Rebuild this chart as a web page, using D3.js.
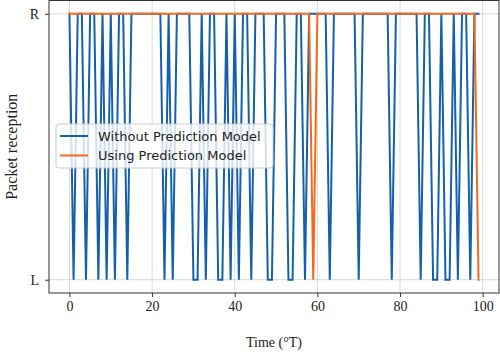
<!DOCTYPE html>
<html>
<head>
<meta charset="utf-8">
<script src="https://cdn.jsdelivr.net/npm/d3@7"></script>
<style>
  html, body { margin: 0; padding: 0; background: #fff; }
  svg { display: block; }
  .serif { font-family: "Liberation Serif", "DejaVu Serif", serif; }
  .sans { font-family: "DejaVu Sans", sans-serif; }
</style>
</head>
<body>
<svg id="chart" width="500" height="353"></svg>
<script>
// ---- data ----
const time = [
  0,1,2,3,4,5,6,7,8,9,
  10,11,12,13,14,15,16,17,18,19,
  20,21,22,23,24,25,26,27,28,29,
  30,31,32,33,34,35,36,37,38,39,
  40,41,42,43,44,45,46,47,48,49,
  50,51,52,53,54,55,56,57,58,59,
  60,61,62,63,64,65,66,67,68,69,
  70,71,72,73,74,75,76,77,78,79,
  80,81,82,83,84,85,86,87,88,89,
  90,91,92,93,94,95,96,97,98,99
];
// 1 = R (received), 0 = L (lost)
const withoutPrediction = [
  1,0,1,1,0,1,1,0,1,0,
  1,0,1,1,0,1,1,1,1,1,
  1,1,1,0,1,0,1,1,1,1,
  0,0,1,0,1,1,0,0,1,0,
  1,0,1,1,0,1,1,1,0,0,
  1,1,1,0,0,1,1,0,1,1,
  1,1,1,0,1,1,1,1,1,1,
  0,1,1,1,1,1,1,1,0,1,
  1,1,1,1,1,0,1,1,0,0,
  1,0,0,1,0,1,1,0,1,1
];
const usingPrediction = [
  1,1,1,1,1,1,1,1,1,1,
  1,1,1,1,1,1,1,1,1,1,
  1,1,1,1,1,1,1,1,1,1,
  1,1,1,1,1,1,1,1,1,1,
  1,1,1,1,1,1,1,1,1,1,
  1,1,1,1,1,1,1,1,1,0,
  1,1,1,1,1,1,1,1,1,1,
  1,1,1,1,1,1,1,1,1,1,
  1,1,1,1,1,1,1,1,1,1,
  1,1,1,1,1,1,1,1,1,0
];
const seriesNames = ["Without Prediction Model", "Using Prediction Model"];
const xTicks = [0, 20, 40, 60, 80, 100];
const yTickValues = [0, 1];
const yTickLabels = ["L", "R"];
const xLabel = "Time (\u00B0T)";
const yLabel = "Packet reception";

// ---- layout ----
const colors = ["#1560aa", "#f4691c"];
const frame = { left: 49, right: 499, top: 0.5, bottom: 293 };

const svg = d3.select("#chart");
const x = d3.scaleLinear().domain([-4.95, 103.95]).range([frame.left, frame.right]);
const y = d3.scaleLinear().domain([-0.05, 1.05]).range([frame.bottom, frame.top]);

// grid
const grid = svg.append("g");
grid.selectAll("line.vx").data(xTicks).join("line")
  .attr("x1", d => x(d)).attr("x2", d => x(d))
  .attr("y1", frame.top).attr("y2", frame.bottom)
  .attr("stroke", "#d9d9d9").attr("stroke-width", 1);
grid.selectAll("line.hy").data(yTickValues).join("line")
  .attr("x1", frame.left).attr("x2", frame.right)
  .attr("y1", d => y(d)).attr("y2", d => y(d))
  .attr("stroke", "#d9d9d9").attr("stroke-width", 1);

// lines
const series = [withoutPrediction, usingPrediction];
const lineGen = d3.line().x((d, i) => x(time[i])).y(d => y(d));
const plot = svg.append("g");
series.forEach((s, k) => {
  plot.append("path").datum(s)
    .attr("d", lineGen)
    .attr("fill", "none")
    .attr("stroke", colors[k])
    .attr("stroke-width", 2)
    .attr("stroke-linejoin", "miter")
    .attr("stroke-linecap", "square");
});

// frame
svg.append("rect")
  .attr("x", frame.left).attr("y", frame.top)
  .attr("width", frame.right - frame.left).attr("height", frame.bottom - frame.top)
  .attr("fill", "none").attr("stroke", "#333").attr("stroke-width", 1);

// axes
const xAxis = d3.axisBottom(x).tickValues(xTicks).tickSize(4).tickPadding(4);
const gx = svg.append("g").attr("transform", `translate(0,${frame.bottom})`).call(xAxis);
gx.select(".domain").remove();
gx.selectAll("text").attr("class", "serif").attr("font-size", 14).attr("fill", "#222");
gx.selectAll("line").attr("stroke", "#333");

const yAxis = d3.axisLeft(y).tickValues(yTickValues).tickFormat((d, i) => yTickLabels[i]).tickSize(4).tickPadding(6);
const gy = svg.append("g").attr("transform", `translate(${frame.left},0)`).call(yAxis);
gy.select(".domain").remove();
gy.selectAll("text").attr("class", "serif").attr("font-size", 14).attr("fill", "#222");
gy.selectAll("line").attr("stroke", "#333");

// axis labels
svg.append("text").attr("class", "serif")
  .attr("x", x(49.5)).attr("y", 347)
  .attr("text-anchor", "middle").attr("font-size", 14).attr("fill", "#222")
  .text(xLabel);
svg.append("text").attr("class", "serif")
  .attr("transform", `translate(17,${(frame.top + frame.bottom) / 2}) rotate(-90)`)
  .attr("text-anchor", "middle").attr("font-size", 16).attr("fill", "#222")
  .text(yLabel);

// legend
const lg = svg.append("g").attr("transform", "translate(56,124)");
lg.append("rect").attr("width", 217).attr("height", 44).attr("rx", 3)
  .attr("fill", "white").attr("fill-opacity", 0.8)
  .attr("stroke", "#cccccc").attr("stroke-width", 1);
seriesNames.forEach((name, k) => {
  const yy = 12 + k * 19.5;
  lg.append("line").attr("x1", 4).attr("x2", 32).attr("y1", yy).attr("y2", yy)
    .attr("stroke", colors[k]).attr("stroke-width", 2);
  lg.append("text").attr("class", "sans")
    .attr("x", 42).attr("y", yy).attr("dy", "0.36em")
    .attr("font-size", 13).attr("fill", "#222")
    .text(name);
});
</script>
</body>
</html>
